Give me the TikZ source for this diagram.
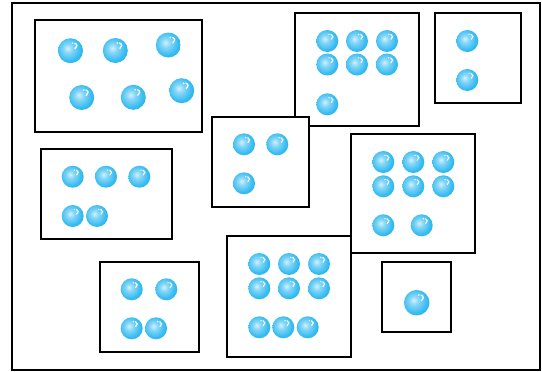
\documentclass[tikz,border=0pt]{standalone}
\usetikzlibrary{calc}
\definecolor{bubA}{HTML}{D2F1FD}
\definecolor{bubB}{HTML}{86D6F7}
\definecolor{bubC}{HTML}{34BBF0}
\definecolor{bubD}{HTML}{14AAEA}
\definecolor{bubE}{HTML}{0A9DE0}
\pgfdeclareradialshading{bubble}{\pgfpoint{-6bp}{5bp}}{%
  color(0bp)=(bubA);
  color(9bp)=(bubB);
  color(24bp)=(bubC);
  color(40bp)=(bubD);
  color(54bp)=(bubE);
  color(72bp)=(bubE)}
\tikzset{
  frame/.style={draw=black, line width=1.6pt},
  box/.style={draw=black, fill=white, line width=2pt},
  ball/.style={circle, inner sep=0pt, minimum size=#1, shading=bubble,
    path picture={
      \draw[white, line width=0.05*#1, line cap=round]
        ([xshift=0.17*#1, yshift=0.30*#1]path picture bounding box.center)
        .. controls ([xshift=0.29*#1, yshift=0.27*#1]path picture bounding box.center)
        and ([xshift=0.27*#1, yshift=0.14*#1]path picture bounding box.center)
        .. ([xshift=0.18*#1, yshift=0.08*#1]path picture bounding box.center);
      \fill[white] ([xshift=0.08*#1, yshift=0.30*#1]path picture bounding box.center) circle[radius=0.035*#1];
    }},
  ball/.default=22pt
}
\begin{document}
\begin{tikzpicture}[x=1pt, y=-1pt]
\useasboundingbox (0,0) rectangle (542,372);
\fill[white] (0,0) rectangle (542,372);
\draw[frame] (12,3) rectangle (540,370);
% box 1
\draw[box] (35,20) rectangle (202,132);
\node[ball=25pt] (a1) at (70.5,50.7) {};
\node[ball=25pt] (a2) at (115.3,50.5) {};
\node[ball=25pt] (a3) at (168.3,45) {};
\node[ball=25pt] (a4) at (81.7,97.5) {};
\node[ball=25pt] (a5) at (133.3,97.3) {};
\node[ball=25pt] (a6) at (181.7,90.7) {};
% box 2
\draw[box] (295,13) rectangle (419,126);
\node[ball] (b1) at (327.3,41) {};
\node[ball] (b2) at (357,41) {};
\node[ball] (b3) at (387,41) {};
\node[ball] (b4) at (327.3,64.5) {};
\node[ball] (b5) at (357,64.5) {};
\node[ball] (b6) at (387,64.5) {};
\node[ball] (b7) at (327.3,104.3) {};
% box 3
\draw[box] (435,13) rectangle (521,103);
\node[ball] (c1) at (467.3,41) {};
\node[ball] (c2) at (467.3,80) {};
% box 4
\draw[box] (212,117) rectangle (309,206.5);
\node[ball] (d1) at (244,144.3) {};
\node[ball] (d2) at (277.3,144.3) {};
\node[ball] (d3) at (244,183.3) {};
% box 5
\draw[box] (41,149.3) rectangle (172,239);
\node[ball] (e1) at (72.7,176.7) {};
\node[ball] (e2) at (106,176.7) {};
\node[ball] (e3) at (139.3,176.7) {};
\node[ball] (e4) at (72.7,216) {};
\node[ball] (e5) at (97,216) {};
% box 6
\draw[box] (100,262.3) rectangle (198.5,352.3);
\node[ball] (f1) at (131.7,289.3) {};
\node[ball] (f2) at (166.3,289.3) {};
\node[ball] (f3) at (131.7,328.3) {};
\node[ball] (f4) at (156,328.3) {};
% box 7
\draw[box] (351,134) rectangle (475,253);
\node[ball] (g1) at (383.3,162) {};
\node[ball] (g2) at (413.3,162) {};
\node[ball] (g3) at (443.3,162) {};
\node[ball] (g4) at (383.3,186.3) {};
\node[ball] (g5) at (413.3,186.3) {};
\node[ball] (g6) at (443.3,186.3) {};
\node[ball] (g7) at (383.3,225.3) {};
\node[ball] (g8) at (421.7,225.3) {};
% box 8
\draw[box] (227.3,236) rectangle (351,356.7);
\node[ball] (h1) at (259.3,264) {};
\node[ball] (h2) at (289,264) {};
\node[ball] (h3) at (319,264) {};
\node[ball] (h4) at (259.3,288.3) {};
\node[ball] (h5) at (289,288.3) {};
\node[ball] (h6) at (319,288.3) {};
\node[ball] (h7) at (259.3,327.3) {};
\node[ball] (h8) at (283.3,327.3) {};
\node[ball] (h9) at (307.7,327.3) {};
% box 9
\draw[box] (382.3,262.3) rectangle (451,332.3);
\node[ball=25.5pt] (i1) at (416.7,302.7) {};
\end{tikzpicture}
\end{document}
